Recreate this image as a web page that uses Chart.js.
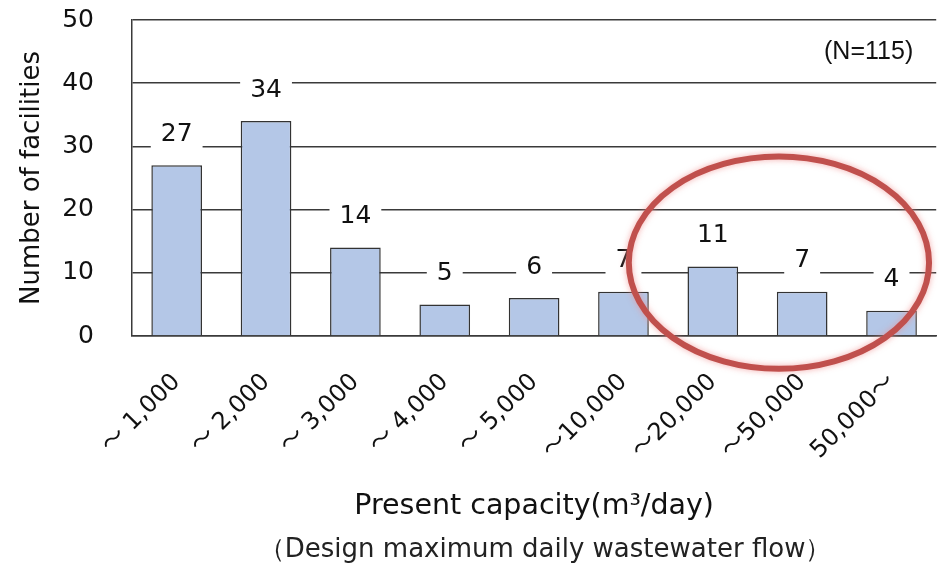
<!DOCTYPE html>
<html>
<head>
<meta charset="utf-8">
<script src="https://cdn.jsdelivr.net/npm/chart.js@4.4.1/dist/chart.umd.min.js"></script>
<style>
  html, body { margin: 0; padding: 0; background: #fff; overflow: hidden; }
  canvas { display: block; }
</style>
</head>
<body>
<canvas id="chart" width="944" height="570"></canvas>
<script>
// Capacity classes (m3/day) and number of facilities in each class
const categories = ['〜 1,000', '〜 2,000', '〜 3,000', '〜 4,000', '〜 5,000', '〜10,000', '〜20,000', '〜50,000', '50,000〜'];
const facilities = [27, 34, 14, 5, 6, 7, 11, 7, 4];
const yTickValues = [0, 10, 20, 30, 40, 50];

const sampleNote = '(N=115)';
const yTitle = 'Number of facilities';
const xTitle = 'Present capacity(m³/day)';
const xSubtitle = '（Design maximum daily wastewater flow）';

// Red ring around the large-capacity classes, in category index / value units
const ring = { cx: 6.74, cy: 11.6, rx: 1.68, ry: 16.8 };

const FONT = '"DejaVu Sans", Verdana, sans-serif';
const TICK_FONT = '"DejaVu Sans", "Noto Sans CJK JP", sans-serif';
const INK = '#111';
const LINE = '#3a3a3a';

// Value above each bar, on a white patch that interrupts the grid lines
const valueLabels = {
  id: 'valueLabels',
  afterDatasetsDraw(chart) {
    const { ctx } = chart;
    const meta = chart.getDatasetMeta(0);
    ctx.save();
    ctx.font = '25px ' + FONT;
    ctx.textAlign = 'center';
    ctx.textBaseline = 'middle';
    meta.data.forEach((bar, i) => {
      const txt = String(facilities[i]);
      const w = ctx.measureText(txt).width + 20;
      const y = bar.y - 32;
      ctx.fillStyle = '#fff';
      ctx.fillRect(bar.x - w / 2, y - 15, w, 30);
      ctx.fillStyle = INK;
      ctx.fillText(txt, bar.x, y + 1);
    });
    ctx.restore();
  }
};

// Sample size note, second line of the axis caption and highlight ring
const overlay = {
  id: 'overlay',
  afterDraw(chart) {
    const { ctx, chartArea } = chart;
    const xs = chart.scales.x, ys = chart.scales.y;
    ctx.save();
    ctx.font = '25px "Liberation Sans", Arial, sans-serif';
    ctx.fillStyle = INK;
    ctx.textAlign = 'right';
    ctx.textBaseline = 'middle';
    ctx.fillText(sampleNote, chartArea.right - 23, chartArea.top + 32);

    ctx.font = '26px ' + FONT;
    ctx.fillStyle = '#222';
    ctx.textAlign = 'center';
    ctx.fillText(xSubtitle, (chartArea.left + chartArea.right) / 2 + 11, chart.height - 20);

    const step = xs.getPixelForValue(1) - xs.getPixelForValue(0);
    const cx = xs.getPixelForValue(0) + ring.cx * step;
    const rx = ring.rx * step;
    const cy = ys.getPixelForValue(ring.cy);
    const ry = ys.getPixelForValue(0) - ys.getPixelForValue(ring.ry);
    ctx.beginPath();
    ctx.ellipse(cx, cy, rx, ry, 0, 0, Math.PI * 2);
    ctx.lineWidth = 6;
    ctx.strokeStyle = '#c0504d';
    ctx.shadowColor = 'rgba(240, 140, 140, 0.7)';
    ctx.shadowBlur = 6;
    ctx.stroke();
    ctx.restore();
  }
};

new Chart(document.getElementById('chart'), {
  type: 'bar',
  data: {
    labels: categories,
    datasets: [{
      data: facilities,
      backgroundColor: '#b4c7e7',
      borderColor: '#333',
      borderWidth: 1.5,
      categoryPercentage: 1,
      barPercentage: 0.567
    }]
  },
  options: {
    responsive: false,
    animation: false,
    devicePixelRatio: 1,
    layout: { padding: { top: 20, right: 2, left: 0, bottom: 35 } },
    plugins: {
      legend: { display: false },
      tooltip: { enabled: false },
      title: { display: false }
    },
    scales: {
      x: {
        grid: { display: false, drawTicks: false },
        border: { display: true, color: LINE, width: 1.5 },
        ticks: {
          color: INK,
          font: { family: TICK_FONT, size: 24 },
          minRotation: 45,
          maxRotation: 45,
          padding: 32,
          autoSkip: false
        },
        title: {
          display: true,
          text: xTitle,
          color: INK,
          font: { family: FONT, size: 28.5, lineHeight: 1.2 },
          padding: { top: 0, bottom: 11 }
        },
        afterFit(scale) { scale.height = 199; }
      },
      y: {
        min: 0,
        max: 50,
        afterBuildTicks(scale) { scale.ticks = yTickValues.map(v => ({ value: v })); },
        grid: { color: LINE, lineWidth: 1.5, drawTicks: false },
        border: { display: true, color: LINE, width: 1.5 },
        ticks: {
          color: INK,
          font: { family: FONT, size: 25 },
          padding: 38
        },
        title: {
          display: true,
          text: yTitle,
          color: INK,
          font: { family: FONT, size: 26, lineHeight: 1.2 },
          padding: { top: 17, bottom: 0 }
        },
        afterFit(scale) {
          scale.width = 132;
          scale.paddingTop = 0;
          scale.paddingBottom = 0;
        }
      }
    }
  },
  plugins: [valueLabels, overlay]
});
</script>
</body>
</html>
